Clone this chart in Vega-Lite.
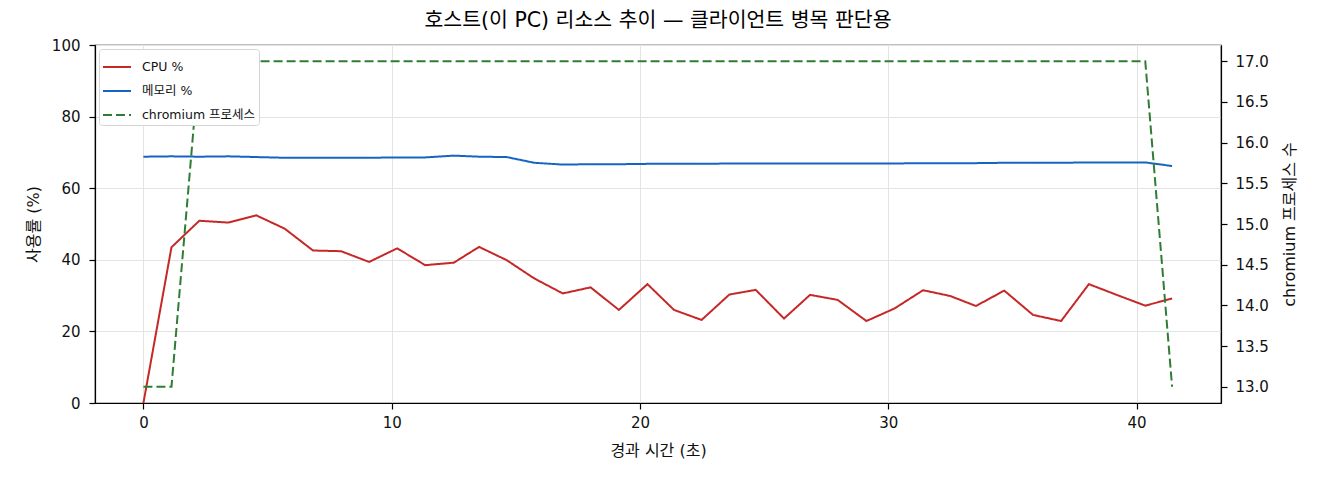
{
  "$schema": "https://vega.github.io/schema/vega-lite/v6.json",
  "width": 1126,
  "height": 358,
  "autosize": "none",
  "padding": {"left": 95, "top": 45, "right": 99, "bottom": 77},
  "background": "white",
  "title": {
    "text": "호스트(이 PC) 리소스 추이 — 클라이언트 병목 판단용",
    "font": "DejaVu Sans, Noto Sans CJK KR",
    "fontSize": 20.5,
    "fontWeight": "normal",
    "color": "black",
    "offset": 7
  },
  "data": {
    "values": [
      {"t": 0, "cpu": 0, "mem": 68.8, "chr": 13},
      {"t": 1.13, "cpu": 43.5, "mem": 68.9, "chr": 13},
      {"t": 2.25, "cpu": 50.9, "mem": 68.8, "chr": 17},
      {"t": 3.43, "cpu": 50.4, "mem": 68.9, "chr": 17},
      {"t": 4.55, "cpu": 52.4, "mem": 68.7, "chr": 17},
      {"t": 5.69, "cpu": 48.7, "mem": 68.5, "chr": 17},
      {"t": 6.83, "cpu": 42.6, "mem": 68.5, "chr": 17},
      {"t": 7.96, "cpu": 42.4, "mem": 68.5, "chr": 17},
      {"t": 9.09, "cpu": 39.4, "mem": 68.5, "chr": 17},
      {"t": 10.22, "cpu": 43.2, "mem": 68.6, "chr": 17},
      {"t": 11.35, "cpu": 38.5, "mem": 68.6, "chr": 17},
      {"t": 12.5, "cpu": 39.2, "mem": 69.1, "chr": 17},
      {"t": 13.52, "cpu": 43.6, "mem": 68.8, "chr": 17},
      {"t": 14.63, "cpu": 39.9, "mem": 68.7, "chr": 17},
      {"t": 15.74, "cpu": 34.8, "mem": 67.1, "chr": 17},
      {"t": 16.89, "cpu": 30.6, "mem": 66.6, "chr": 17},
      {"t": 18.01, "cpu": 32.3, "mem": 66.7, "chr": 17},
      {"t": 19.15, "cpu": 26.0, "mem": 66.7, "chr": 17},
      {"t": 20.3, "cpu": 33.2, "mem": 66.8, "chr": 17},
      {"t": 21.37, "cpu": 26.0, "mem": 66.8, "chr": 17},
      {"t": 22.48, "cpu": 23.2, "mem": 66.8, "chr": 17},
      {"t": 23.6, "cpu": 30.3, "mem": 66.9, "chr": 17},
      {"t": 24.66, "cpu": 31.6, "mem": 66.9, "chr": 17},
      {"t": 25.8, "cpu": 23.6, "mem": 66.9, "chr": 17},
      {"t": 26.85, "cpu": 30.2, "mem": 66.9, "chr": 17},
      {"t": 27.96, "cpu": 28.8, "mem": 66.9, "chr": 17},
      {"t": 29.12, "cpu": 22.9, "mem": 66.9, "chr": 17},
      {"t": 30.25, "cpu": 26.4, "mem": 66.9, "chr": 17},
      {"t": 31.4, "cpu": 31.5, "mem": 67.0, "chr": 17},
      {"t": 32.49, "cpu": 29.9, "mem": 67.0, "chr": 17},
      {"t": 33.53, "cpu": 27.1, "mem": 67.0, "chr": 17},
      {"t": 34.67, "cpu": 31.4, "mem": 67.1, "chr": 17},
      {"t": 35.83, "cpu": 24.6, "mem": 67.1, "chr": 17},
      {"t": 36.96, "cpu": 22.9, "mem": 67.1, "chr": 17},
      {"t": 38.08, "cpu": 33.2, "mem": 67.2, "chr": 17},
      {"t": 39.2, "cpu": 30.2, "mem": 67.2, "chr": 17},
      {"t": 40.35, "cpu": 27.2, "mem": 67.2, "chr": 17},
      {"t": 41.43, "cpu": 29.2, "mem": 66.2, "chr": 13}
    ]
  },
  "encoding": {
    "x": {
      "field": "t",
      "type": "quantitative",
      "scale": {"domain": [-1.95, 43.4], "nice": false, "zero": false},
      "axis": {
        "title": "경과 시간 (초)",
        "values": [0, 10, 20, 30, 40],
        "grid": true,
        "titlePadding": 12
      }
    }
  },
  "layer": [
    {
      "encoding": {
        "y": {
          "type": "quantitative",
          "scale": {"domain": [0, 100], "nice": false},
          "axis": {
            "title": "사용률 (%)",
            "values": [0, 20, 40, 60, 80, 100],
            "grid": true,
            "orient": "left",
            "labelPadding": 9
          }
        }
      },
      "layer": [
        {
          "mark": {"type": "line", "strokeWidth": 2, "clip": true},
          "encoding": {
            "y": {"field": "cpu", "type": "quantitative"},
            "color": {"datum": "CPU %"},
            "strokeDash": {"datum": "CPU %"}
          }
        },
        {
          "mark": {"type": "line", "strokeWidth": 2, "clip": true},
          "encoding": {
            "y": {"field": "mem", "type": "quantitative"},
            "color": {"datum": "메모리 %"},
            "strokeDash": {"datum": "메모리 %"}
          }
        }
      ]
    },
    {
      "mark": {"type": "line", "strokeWidth": 2, "clip": true},
      "encoding": {
        "y": {
          "field": "chr",
          "type": "quantitative",
          "scale": {"domain": [12.8, 17.2], "nice": false, "zero": false},
          "axis": {
            "title": "chromium 프로세스 수",
            "orient": "right",
            "values": [13, 13.5, 14, 14.5, 15, 15.5, 16, 16.5, 17],
            "format": ".1f",
            "grid": false,
            "labelPadding": 8,
            "titleAngle": 270,
            "titleBaseline": "top",
            "titlePadding": 13
          }
        },
        "color": {
          "datum": "chromium 프로세스",
          "scale": {
            "domain": ["CPU %", "메모리 %", "chromium 프로세스"],
            "range": ["#c62828", "#1565c0", "#2e7d32"]
          }
        },
        "strokeDash": {
          "datum": "chromium 프로세스",
          "scale": {
            "domain": ["CPU %", "메모리 %", "chromium 프로세스"],
            "range": [[1, 0], [1, 0], [9, 4]]
          }
        }
      }
    }
  ],
  "resolve": {"scale": {"y": "independent"}},
  "config": {
    "font": "DejaVu Sans, Noto Sans CJK KR",
    "view": {"stroke": "black", "strokeWidth": 1.2},
    "axis": {
      "labelFont": "DejaVu Sans, Noto Sans CJK KR",
      "titleFont": "DejaVu Sans, Noto Sans CJK KR",
      "labelFontSize": 15,
      "titleFontSize": 16,
      "titleFontWeight": "normal",
      "labelColor": "#111",
      "titleColor": "#111",
      "domainColor": "black",
      "domainWidth": 1.2,
      "tickColor": "black",
      "tickSize": 6,
      "tickWidth": 1.2,
      "labelPadding": 6,
      "titlePadding": 10,
      "gridColor": "#e3e3e3",
      "gridWidth": 1
    },
    "legend": {
      "orient": "top-left",
      "offset": 4,
      "title": null,
      "symbolType": "stroke",
      "symbolSize": 784,
      "symbolStrokeWidth": 2,
      "labelFont": "DejaVu Sans, Noto Sans CJK KR",
      "labelFontSize": 12.5,
      "labelColor": "#111",
      "labelOffset": 10,
      "rowPadding": 2,
      "padding": 3,
      "fillColor": "white",
      "strokeColor": "#d5d5d5",
      "cornerRadius": 3
    }
  }
}
